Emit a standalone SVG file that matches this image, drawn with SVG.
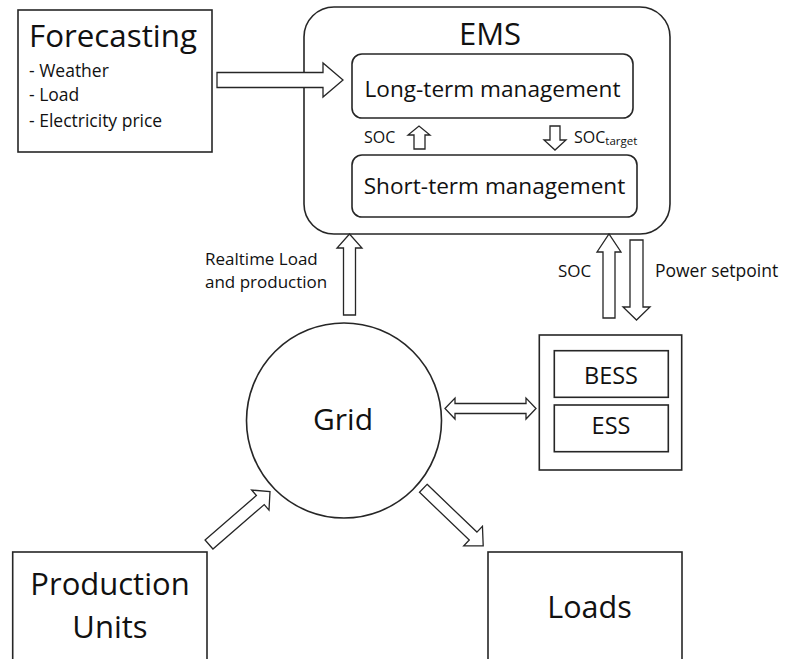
<svg xmlns="http://www.w3.org/2000/svg" width="785" height="659" viewBox="0 0 785 659">
  <style>
    .box { fill: #ffffff; stroke: #262626; stroke-width: 1.6; }
    .arrow { fill: #ffffff; stroke: #262626; stroke-width: 1.3; stroke-linejoin: miter; }
    text { font-family: "Open Sans", "Liberation Sans", sans-serif; fill: #111111; }
    .mid { text-anchor: middle; }
  </style>
  <rect width="785" height="659" fill="#ffffff"/>

  <!-- Forecasting inputs -->
  <g id="forecasting">
    <rect class="box" x="18" y="10" width="194" height="142"/>
    <text x="29" y="47" font-size="31.3">Forecasting</text>
    <text x="29" y="77" font-size="17.5">- Weather</text>
    <text x="29" y="101" font-size="17.5">- Load</text>
    <text x="29" y="127" font-size="17.5">- Electricity price</text>
  </g>

  <!-- Energy management system with its two layers -->
  <g id="ems">
    <rect class="box" x="304" y="7" width="366" height="227" rx="30" ry="30"/>
    <text class="mid" x="490" y="45" font-size="31">EMS</text>
  </g>
  <g id="long-term">
    <rect class="box" x="352" y="54" width="281" height="64" rx="10" ry="10"/>
    <text class="mid" x="492.5" y="97" font-size="22.6">Long-term management</text>
  </g>
  <g id="short-term">
    <rect class="box" x="352" y="155" width="285" height="62" rx="10" ry="10"/>
    <text class="mid" x="494.5" y="194" font-size="22.6">Short-term management</text>
  </g>

  <!-- Grid -->
  <g id="grid">
    <circle class="box" cx="344" cy="420.5" r="97.5"/>
    <text class="mid" x="343" y="430" font-size="30">Grid</text>
  </g>

  <!-- Storage -->
  <g id="storage">
    <rect class="box" x="539.3" y="335" width="142.4" height="135"/>
  </g>
  <g id="bess">
    <rect class="box" x="554.3" y="350.7" width="114" height="46.6"/>
    <text class="mid" x="611" y="384" font-size="23.5">BESS</text>
  </g>
  <g id="ess">
    <rect class="box" x="554.3" y="405" width="114" height="46.7"/>
    <text class="mid" x="611" y="434" font-size="23.5">ESS</text>
  </g>

  <!-- Production and consumption -->
  <g id="production-units">
    <rect class="box" x="12.7" y="552" width="194.3" height="130"/>
    <text class="mid" x="110" y="595" font-size="31">Production</text>
    <text class="mid" x="110" y="638" font-size="31">Units</text>
  </g>
  <g id="loads">
    <rect class="box" x="488" y="552" width="194" height="130"/>
    <text class="mid" x="589.5" y="618" font-size="30.5">Loads</text>
  </g>

  <!-- Block-arrow connectors and their labels -->
  <g id="connectors">
    <!-- forecasts into long-term layer -->
    <polygon class="arrow" points="217,72.5 323,72.5 323,63 343,80 323,97 323,87.5 217,87.5"/>
    <!-- SOC up from short-term to long-term -->
    <polygon class="arrow" points="414,149 414,135 408,135 419,126 430,135 425,135 425,149"/>
    <text x="364" y="143" font-size="16">SOC</text>
    <!-- SOC target down -->
    <polygon class="arrow" points="550,126 560,126 560,140 566,140 555,150 544,140 550,140"/>
    <text x="574" y="143" font-size="16">SOC<tspan font-size="11.5" dy="2">target</tspan></text>
    <!-- realtime measurements from grid -->
    <polygon class="arrow" points="343.5,315 343.5,248 337,248 349.5,234 362,248 355.5,248 355.5,315"/>
    <text x="205" y="265" font-size="17">Realtime Load</text>
    <text x="205" y="288" font-size="17">and production</text>
    <!-- SOC from storage -->
    <polygon class="arrow" points="603,318 603,252 597,252 609,234 621,252 615,252 615,318"/>
    <text x="558" y="277" font-size="17">SOC</text>
    <!-- power setpoint to storage -->
    <polygon class="arrow" points="630,240 643,240 643,307 650,307 636.5,320 623,307 630,307"/>
    <text x="655" y="277" font-size="17.5">Power setpoint</text>
    <!-- grid exchange with storage -->
    <polygon class="arrow" points="445,408.5 455,398 455,403.5 526,403.5 526,398 536,408.5 526,419 526,413.5 455,413.5 455,419"/>
    <!-- production feeds the grid -->
    <polygon class="arrow" transform="translate(209,544.5) rotate(-40.9)" points="0,-6 67.9,-6 67.9,-13.25 80.7,0 67.9,13.25 67.9,6 0,6"/>
    <!-- grid supplies the loads -->
    <polygon class="arrow" transform="translate(423.3,488.3) rotate(43.8)" points="0,-5.5 69,-5.5 69,-13.5 83,0 69,13.5 69,5.5 0,5.5"/>
  </g>
</svg>
